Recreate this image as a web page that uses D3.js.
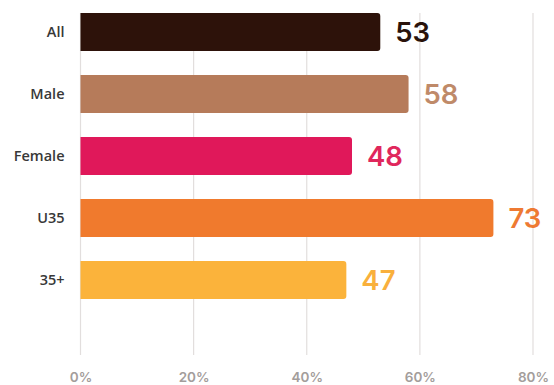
<!DOCTYPE html>
<html>
<head>
<meta charset="utf-8">
<script src="https://cdn.jsdelivr.net/npm/d3@7"></script>
<style>
  html, body { margin: 0; padding: 0; background: #ffffff; }
  svg { display: block; }
</style>
</head>
<body>
<svg id="chart" width="554" height="385"></svg>
<script>
// Share of respondents by group (%)
const categories = ["All", "Male", "Female", "U35", "35+"];
const values = [53, 58, 48, 73, 47];
const barColors = ["#2d120a", "#b67b5a", "#e0185a", "#f07a2d", "#fbb33b"];
const labelColors = ["#2a130b", "#bf8a69", "#e0275c", "#ee7a33", "#f9b03c"];
const tickValues = [0, 20, 40, 60, 80];

const svg = d3.select("#chart");

const x = d3.scaleLinear().domain([0, 80]).range([80.5, 533]);
const y = d3.scaleBand()
  .domain(categories)
  .range([1, 311])
  .paddingInner(0.39)
  .paddingOuter(0.195);

// vertical gridlines
svg.append("g")
  .selectAll("line")
  .data(tickValues)
  .join("line")
  .attr("x1", d => x(d)).attr("x2", d => x(d))
  .attr("y1", 13).attr("y2", 355)
  .attr("stroke", "#e2dedd")
  .attr("stroke-width", 1.2);

// bottom axis labels
const axis = d3.axisBottom(x).tickValues(tickValues).tickFormat(d => d + "%").tickSize(0);
const axisG = svg.append("g").attr("transform", "translate(0,370)").call(axis);
axisG.select(".domain").remove();
axisG.selectAll("text")
  .attr("dy", "0.32em")
  .attr("y", 8)
  .attr("fill", "#a39d9b")
  .style("font-family", "Inter, sans-serif")
  .style("font-weight", 600)
  .style("font-size", "13.5px");

// bars with rounded right end
function barPath(x0, x1, y0, h, r) {
  return `M${x0},${y0}H${x1 - r}Q${x1},${y0} ${x1},${y0 + r}V${y0 + h - r}Q${x1},${y0 + h} ${x1 - r},${y0 + h}H${x0}Z`;
}

const rows = categories.map((c, i) => ({ cat: c, val: values[i], bar: barColors[i], lab: labelColors[i] }));

svg.append("g")
  .selectAll("path")
  .data(rows)
  .join("path")
  .attr("d", d => barPath(x(0), x(d.val), y(d.cat), y.bandwidth(), 3))
  .attr("fill", d => d.bar);

// value labels
svg.append("g")
  .selectAll("text")
  .data(rows)
  .join("text")
  .attr("x", d => x(d.val) + 15)
  .attr("y", d => y(d.cat) + y.bandwidth() / 2)
  .attr("dy", "0.36em")
  .attr("fill", d => d.lab)
  .style("font-family", "Inter, sans-serif")
  .style("font-weight", 600)
  .style("font-size", "27.5px")
  .text(d => d.val);

// category labels
svg.append("g")
  .selectAll("text")
  .data(rows)
  .join("text")
  .attr("x", 64.5)
  .attr("y", d => y(d.cat) + y.bandwidth() / 2)
  .attr("dy", "0.36em")
  .attr("text-anchor", "end")
  .attr("fill", "#383838")
  .style("font-family", "'Open Sans', sans-serif")
  .style("font-weight", 600)
  .style("font-size", "14.5px")
  .text(d => d.cat);
</script>
</body>
</html>
